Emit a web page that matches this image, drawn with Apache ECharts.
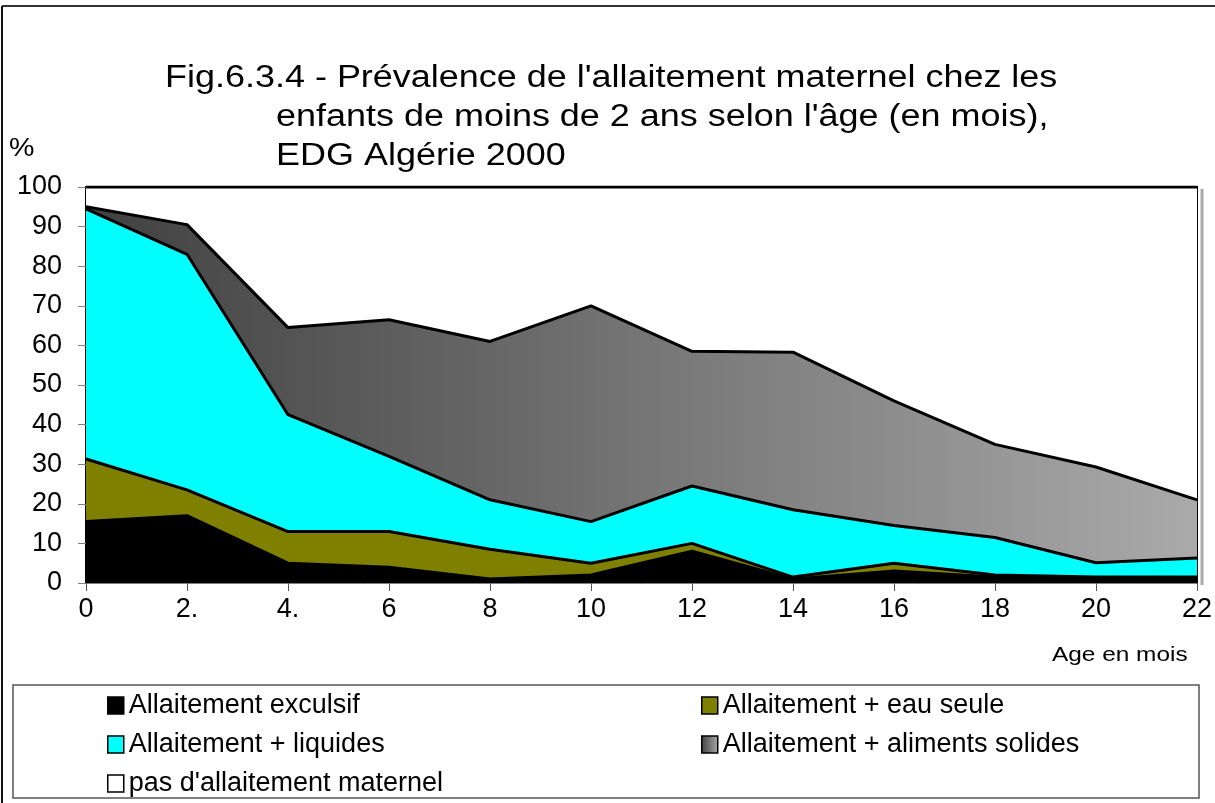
<!DOCTYPE html>
<html>
<head>
<meta charset="utf-8">
<script src="https://cdn.jsdelivr.net/npm/echarts@6/dist/echarts.min.js"></script>
<style>
  html, body { margin: 0; padding: 0; background: #fff; }
  #chart { width: 1215px; height: 803px; }
</style>
</head>
<body>
<div id="chart"></div>
<script>
// ages (months) and tick labels as printed
var ages = ["0", "2.", "4.", "6", "8", "10", "12", "14", "16", "18", "20", "22"];

// stacked shares (%) per age group
var exclusif = [15.5, 17, 5, 4, 1, 2, 8, 1, 3, 1.5, 1.3, 1];
var eauSeule = [15.8, 6.5, 8, 9, 7.5, 3, 2, 0.5, 2, 0.5, 0.2, 0.5];
var liquides = [63.2, 59.5, 29.5, 19, 12.5, 10.5, 14.5, 17, 9.5, 9.5, 3.6, 4.8];
var solides = [0.5, 7.5, 22, 34.5, 40, 54.5, 34, 39.8, 31.5, 23.5, 24.2, 14.7];
var pasAllaitement = [5, 9.5, 35.5, 33.5, 39, 30, 41.5, 41.7, 54, 65, 70.7, 79];

var yTicks = [0, 10, 20, 30, 40, 50, 60, 70, 80, 90, 100];

var titleLines = [
  "Fig.6.3.4 - Prévalence de l'allaitement maternel chez les",
  "enfants de moins de 2 ans selon l'âge (en mois),",
  "EDG Algérie 2000"
];

var font = "Liberation Sans";
var myChart = echarts.init(document.getElementById("chart"));

var grayGrad = new echarts.graphic.LinearGradient(0, 0, 1, 0, [
  { offset: 0, color: "#404040" },
  { offset: 1, color: "#aaaaaa" }
]);

function area(name, data, fill) {
  return {
    name: name,
    type: "line",
    stack: "total",
    data: data,
    symbol: "none",
    smooth: false,
    itemStyle: { color: fill },
    lineStyle: { color: "#000", width: 3 },
    areaStyle: { color: fill, opacity: 1 },
    emphasis: { disabled: true }
  };
}

// text drawn a bit wider, as in the original figure
function wideText(str, x, y, size, sx) {
  return {
    type: "text", x: x, y: y, scaleX: sx, scaleY: 1,
    style: { text: str, fontSize: size, fill: "#000", fontFamily: font, verticalAlign: "top" }
  };
}

var legendText = { fontSize: 27, color: "#000", fontFamily: font, lineHeight: 26 };

var option = {
  backgroundColor: "#fff",
  animation: false,
  textStyle: { fontFamily: font },
  grid: {
    left: 86, right: 17, top: 187, bottom: 220,
    show: true,
    borderColor: "#000",
    borderWidth: 2,
    backgroundColor: "#fff"
  },
  legend: [
    {
      orient: "vertical",
      left: 102, top: 687,
      icon: "rect",
      itemWidth: 16, itemHeight: 17, itemGap: 12,
      itemStyle: { borderColor: "#000", borderWidth: 1.5 },
      textStyle: legendText,
      data: ["Allaitement exculsif", "Allaitement + liquides", "pas d'allaitement maternel"],
      selectedMode: false
    },
    {
      orient: "vertical",
      left: 696, top: 687,
      icon: "rect",
      itemWidth: 16, itemHeight: 17, itemGap: 12,
      itemStyle: { borderColor: "#000", borderWidth: 1.5 },
      textStyle: legendText,
      data: ["Allaitement + eau seule", "Allaitement + aliments solides"],
      selectedMode: false
    }
  ],
  xAxis: {
    type: "category",
    data: ages,
    boundaryGap: false,
    axisLine: { lineStyle: { color: "#808080", width: 1 } },
    axisTick: { show: true, length: 8, lineStyle: { color: "#555" } },
    axisLabel: { fontSize: 27, color: "#000", margin: 13, fontFamily: font }
  },
  yAxis: {
    type: "value",
    min: 0, max: 100, interval: 10,
    splitLine: { show: false },
    axisLine: { show: true, lineStyle: { color: "#808080", width: 1 } },
    axisTick: { show: true, length: 8, lineStyle: { color: "#808080" } },
    axisLabel: {
      fontSize: 27, color: "#000", margin: 24, fontFamily: font,
      formatter: function (v) { return yTicks.indexOf(v) >= 0 ? String(v) : ""; }
    }
  },
  series: [
    area("Allaitement exculsif", exclusif, "#000000"),
    area("Allaitement + eau seule", eauSeule, "#808000"),
    area("Allaitement + liquides", liquides, "#00ffff"),
    area("Allaitement + aliments solides", solides, grayGrad),
    area("pas d'allaitement maternel", pasAllaitement, "#ffffff")
  ],
  graphic: [
    // outer frame
    { type: "line", shape: { x1: 2, y1: 6, x2: 1215, y2: 6 }, style: { stroke: "#333", lineWidth: 2 } },
    { type: "line", shape: { x1: 2, y1: 6, x2: 2, y2: 803 }, style: { stroke: "#111", lineWidth: 2 } },
    // shadow at right edge of the plot
    { type: "line", shape: { x1: 1202, y1: 189, x2: 1202, y2: 585 }, style: { stroke: "#aaa", lineWidth: 3 } },
    // legend box
    { type: "rect", z: -1, shape: { x: 13, y: 685, width: 1186, height: 113 }, style: { fill: "#fff", stroke: "#555", lineWidth: 1.5 } },
    wideText(titleLines[0], 165, 63, 31, 1.16),
    wideText(titleLines[1], 276, 102, 31, 1.16),
    wideText(titleLines[2], 276, 141, 31, 1.16),
    wideText("%", 9, 136, 26, 1.1),
    wideText("Age en mois", 1052, 645, 20, 1.22)
  ]
};

myChart.setOption(option);
window.addEventListener("resize", function () { myChart.resize(); });
</script>
</body>
</html>
